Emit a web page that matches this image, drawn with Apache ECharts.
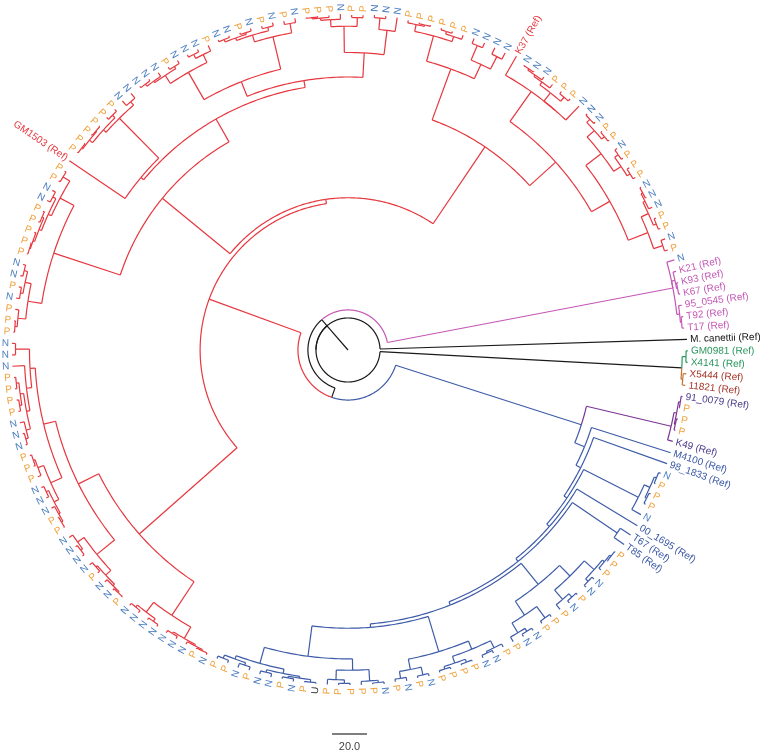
<!DOCTYPE html>
<html>
<head>
<meta charset="utf-8">
<script src="https://cdn.jsdelivr.net/npm/echarts@6/dist/echarts.min.js"></script>
<style>
  html, body { margin: 0; padding: 0; background: #fff; }
  #chart { width: 760px; height: 752px; }
</style>
</head>
<body>
<div id="chart"></div>
<script>
// Tree data: nested groups, "name:depth" where depth = distance from root (scale units).
// Leaves are read counter-clockwise starting just above 3 o'clock.
// Internal node labels (red, blue, purple, mag, grn, brn) mark coloured clades.

// red clade blocks
const rB1 = "((P:191.5,N:192):189.5,((P:191.5,P:191.5):190.3,(N:192,(N:191.5,N:191.5):190.8):189.8):188.5):184";
const rB2 = "(((P:191.5,P:191.5):190,(P:191.5,N:192):190.5):188,((P:191.5,P:191.5):190.6,(N:192,N:192):191):188.5):183";
const rB3 = "(N:192,((P:191.5,P:191.5):190,(P:191.5,(N:192,(N:191.5,N:191.5):191):190):189):187):181";
const rB4 = "((N:192,N:192):188,(N:192,N:192):189):180";
const rB5 = "((P:191.5,(P:191.5,P:191.5):190.5):189,((P:191.5,P:191.5):190.8,P:191.5):190):186";
const rB6 = "(N:192,(N:192,N:192):190.5):184";
const rB7 = "((P:191.5,P:191.5):190,(N:192,(P:191.5,(P:191.5,P:191.5):191):190.3):189):185";
const rB8 = "((N:192,P:191.5):189.5,((N:192,P:191.5):190,((N:192,P:191.5):190.5,(N:192,N:192):191):189.5):188):184";
const rB9 = "((P:191.5,(N:192,N:192):190.5):188,((N:192,P:191.5):190,(N:192,(N:192,N:192):191):189.5):188.5):183";
const rB10 = "((N:192,N:192):188.5,((P:191.5,P:191.5):190,((P:191.5,P:191.5):190.8,(P:191.5,P:191.5):191):190.3):188):186";
const rB11 = "((P:191.5,P:191.5):190.5,((N:192,N:192):190,((P:191.5,P:191.5):190.6,(P:191.5,(P:191.5,P:191.5):191):190.5):189.5):188):186";
const rB12 = "(((N:192,N:192):190.5,(P:191.5,N:192):190):188.5,(P:191.5,(P:191.5,P:191.5):190.8):189.5):185";
const rNN = "(N:192,N:192):190";
const rB13 = "(N:192,(((P:191.5,P:191.5):190.5,(P:191.5,P:191.5):190.3):189,(N:192,(N:192,N:192):191):189.5):187):185";
const rB14 = "(((P:191.5,P:191.5):190.5,P:191.5):189.5,((N:192,N:192):190.5,(N:192,(P:191.5,P:191.5):191):190):189):186";
const rB15 = "((N:192,(N:192,N:192):190.8):189.5,((N:192,P:191.5):190,(N:192,(N:192,P:191.5):191):190.2):189):185";
const rB16 = "(((N:192,N:192):190.5,(N:192,N:192):190.8):189,((N:192,N:192):190.5,(N:192,(P:191.5,N:192):191):190.3):189.5):182";

const redRight = `((${rB1},${rB2}):172,(${rB3},K37:193.5):181):160`;
const redUa = `(${redRight},(${rB4},${rB5}):171):140`;
const redTtop = `((${rB6},${rB7}):170,(${rB8},${rB9}):165):156`;
const redT = `(${redTtop},(${rB10},GM1503:192.5):154):152`;
const redLeft = `(${redT},(${rB11},${rB12}):177):137`;
const redU = `(${redUa},${redLeft}):87`;
const redLadder = `(((${rNN},${rB13}):182,${rB14}):179,${rB15}):172`;
const redZ = `(${redLadder},${rB16}):159`;
const redClade = `(${redU},${redZ})red:84.5`;

// blue clade blocks
const bGb1 = "(((P:191.5,P:191.5):190,(N:192,P:191.5):189.5):188,((N:192,N:192):190,((P:191.5,N:192):190.5,(P:191.5,U:191.5):191):189.5):188.5):186";
const bGb2 = "((P:191.5,(P:191.5,P:191.5):190.5):188.5,(P:191.5,(P:191.5,N:192):190.8):189.5):183";
const bGq1 = "((P:191.5,N:192):190,(P:191.5,N:192):190.5):186";
const bGq2 = "(((P:191.5,P:191.5):190.5,(P:191.5,P:191.5):190.8):189,((N:192,N:192):190.5,P:191.5):189.5):185";
const bGm1 = "((P:191.5,(N:192,N:192):190.5):188.5,(P:191.5,P:191.5):190):182";
const bGm2 = "((P:191.5,(N:192,P:191.5):190.5):188,((N:192,N:192):190.5,(P:191.5,(P:191.5,P:191.5):191):190):188.5):181";
const bGnp = "(N:192,((P:191.5,P:191.5):190.5,(P:191.5,N:192):190.8):189.5):186";
const purple = "(K49:192.8,((P:192.6,P:192.6):191.8,(P:192.6,91_0079:193):192.2):191.2)purple:189.7";

const bN309 = `(${bGb1},${bGb2}):176.5`;
const bGq = `(${bGq1},${bGq2}):180`;
const bR302 = `(${bGm1},${bGm2}):172.5`;
const bBL = `((${bN309},${bGq}):159,${bR302}):157`;
const bBack = `(((((${bBL},(T85:193,T67:193):186):155,00_1695:193.5):153,${bGnp}):151,98_1833:193.5):149,M4100:193.5):146`;
const blueClade = `(${bBack},${purple})blue:140`;

const magenta = "(((T17:192.5,T92:192.5):191.3,95_0545:192.5):190.6,((K67:192.5,K93:192.5):191.6,K21:192.8):191,N:193.5)mag:189";
const greenBrown = "((11821:193.8,X5444:193.8)brn:192,(X4141:194.2,GM0981:194.2)grn:193.2):191";

const treeText = `(Mcan:193.8,(${magenta},(${redClade},${blueClade}):28.6):22.9,${greenBrown}):18.3`;

const refNames = { Mcan: 'M. canettii' };
const branchColors = { black: '#1a1a1a', red: '#e6373f', blue: '#3d5ba8', purple: '#7b3494', mag: '#c457b5', grn: '#2b9a5b', brn: '#c6722f' };
const refColors = { black: '#111111', red: '#e6373f', blue: '#3a57a5', purple: '#4b3c8c', mag: '#c457b5', grn: '#26955a', brn: '#a5352a' };
const tipColors = { N: '#4a7dc0', P: '#f0a23e', U: '#333333' };
const scaleValue = 20;

function parseTree(str) {
  let pos = 0;
  function node() {
    const n = { children: [] };
    if (str[pos] === '(') {
      pos++;
      n.children.push(node());
      while (str[pos] === ',') { pos++; n.children.push(node()); }
      pos++;
    }
    let name = '';
    while (pos < str.length && !':,()'.includes(str[pos])) name += str[pos++];
    n.name = name;
    if (str[pos] === ':') {
      pos++;
      let num = '';
      while (pos < str.length && !',()'.includes(str[pos])) num += str[pos++];
      n.depth = parseFloat(num);
    }
    return n;
  }
  return node();
}

const root = parseTree(treeText);
const colorKeys = Object.keys(branchColors);
let leafCount = 0;
const leaves = [];

function layout(n, color) {
  if (n.children.length && branchColors[n.name]) color = n.name;
  n.color = color;
  if (!n.children.length) {
    n.angle = leafCount++;
    leaves.push(n);
    n.size = 1;
    return;
  }
  n.children.forEach(c => layout(c, color));
  n.size = n.children.reduce((s, c) => s + c.size, 0);
  n.angle = (n.children[0].angle + n.children[n.children.length - 1].angle) / 2;
}
layout(root, 'black');

// segments: [kind (0 radial, 1 arc), r1, r2, a1, a2, colour index]
const segs = [];
function walk(n, parent) {
  if (parent) segs.push([0, parent.depth, n.depth, n.angle, n.angle, colorKeys.indexOf(n.color)]);
  n.children.forEach(c => {
    segs.push([1, n.depth, n.depth, n.angle, c.angle, colorKeys.indexOf(c.color)]);
    walk(c, n);
  });
}
walk(root, null);
const biggest = root.children.reduce((a, b) => (b.size > a.size ? b : a));
segs.push([0, 0, root.depth, biggest.angle, biggest.angle, 0]);

const leafText = leaves.map(l => (tipColors[l.name] ? l.name : (refNames[l.name] || l.name) + ' (Ref)'));
const leafFill = leaves.map(l => tipColors[l.name] || refColors[l.color]);
const labelData = leaves.map((l, i) => [l.depth + 1.8, l.angle, i]);

const chart = echarts.init(document.getElementById('chart'));
chart.setOption({
  animation: false,
  backgroundColor: '#ffffff',
  polar: { center: [348, 350], radius: 350 },
  angleAxis: { type: 'value', min: 0, max: leafCount, startAngle: 1.8, clockwise: false, show: false },
  radiusAxis: { type: 'value', min: 0, max: 200, show: false },
  series: [
    {
      type: 'custom',
      coordinateSystem: 'polar',
      silent: true,
      encode: { radius: 1, angle: 3 },
      data: segs,
      renderItem(params, api) {
        const kind = api.value(0);
        const stroke = branchColors[colorKeys[api.value(5)]];
        let pts;
        if (kind === 0) {
          pts = [api.coord([api.value(1), api.value(3)]), api.coord([api.value(2), api.value(3)])];
        } else {
          const r = api.value(1), a1 = api.value(3), a2 = api.value(4);
          const steps = Math.max(2, Math.ceil(Math.abs(a2 - a1) * 3));
          pts = [];
          for (let k = 0; k <= steps; k++) pts.push(api.coord([r, a1 + (a2 - a1) * k / steps]));
        }
        return { type: 'polyline', shape: { points: pts }, style: { stroke, lineWidth: 1.2, fill: null } };
      }
    },
    {
      type: 'custom',
      coordinateSystem: 'polar',
      silent: true,
      encode: { radius: 0, angle: 1 },
      data: labelData,
      renderItem(params, api) {
        const i = api.value(2);
        const p = api.coord([api.value(0), api.value(1)]);
        const cs = params.coordSys;
        const ang = Math.atan2(cs.cy - p[1], p[0] - cs.cx);
        const left = Math.cos(ang) < 0;
        return {
          type: 'text',
          x: p[0], y: p[1],
          rotation: left ? ang - Math.PI : ang,
          style: {
            text: leafText[i], fill: leafFill[i],
            font: '10px "Liberation Sans", Arial, sans-serif',
            align: left ? 'right' : 'left', verticalAlign: 'middle'
          }
        };
      }
    },
    {
      type: 'custom',
      coordinateSystem: 'polar',
      silent: true,
      encode: { radius: 0, angle: 1 },
      data: [[scaleValue, 0]],
      renderItem(params, api) {
        const p0 = api.coord([0, 0]);
        const p1 = api.coord([api.value(0), 0]);
        const len = Math.hypot(p1[0] - p0[0], p1[1] - p0[1]);
        const cx = params.coordSys.cx + 1.5;
        return {
          type: 'group',
          children: [
            { type: 'line', shape: { x1: cx - len / 2, y1: 734, x2: cx + len / 2, y2: 734 }, style: { stroke: '#555', lineWidth: 1.5 } },
            { type: 'text', x: cx, y: 741, style: { text: scaleValue.toFixed(1), fill: '#444', font: '11px "Liberation Sans", Arial, sans-serif', align: 'center', verticalAlign: 'top' } }
          ]
        };
      }
    }
  ]
});
</script>
</body>
</html>
